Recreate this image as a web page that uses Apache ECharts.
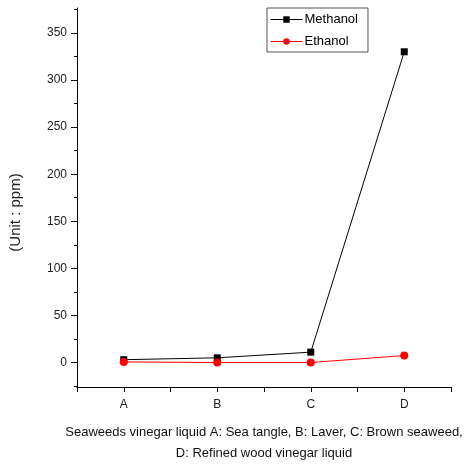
<!DOCTYPE html>
<html>
<head>
<meta charset="utf-8">
<script src="https://cdn.jsdelivr.net/npm/echarts@6/dist/echarts.min.js"></script>
<style>
  html, body { margin: 0; padding: 0; background: #fff; }
  #main { width: 474px; height: 464px; }
</style>
</head>
<body>
<div id="main"></div>
<script>
// categories A..D placed at 0..3 on a value axis
var categories = ['A', 'B', 'C', 'D'];
var methanol = [3, 5, 11, 330];
var ethanol = [0.6, 0, 0, 7.4];
var yLabels = [0, 50, 100, 150, 200, 250, 300, 350];
var yMinorTicks = [-25, 0, 25, 50, 75, 100, 125, 150, 175, 200, 225, 250, 275, 300, 325, 350, 375];
var xTicks = [-0.5, 0, 0.5, 1, 1.5, 2, 2.5, 3, 3.5];

var chart = echarts.init(document.getElementById('main'));

var font = 'Liberation Sans, Arial, sans-serif';

var option = {
  backgroundColor: '#fff',
  animation: false,
  grid: { left: 77, right: 23, top: 8, bottom: 77, outerBoundsMode: 'none', containLabel: false },
  legend: {
    orient: 'vertical',
    left: 267,
    top: 8,
    borderColor: '#555',
    borderWidth: 1,
    padding: [5, 10, 4, 3],
    itemGap: 9,
    itemWidth: 32,
    itemHeight: 8,
    lineStyle: { width: 1 },
    textStyle: { fontFamily: font, fontSize: 13, color: '#000', padding: [0, 0, 0, -3] },
    data: ['Methanol', 'Ethanol']
  },
  xAxis: {
    type: 'value',
    min: -0.5,
    max: 3.5,
    interval: 0.5,
    name: 'Seaweeds vinegar liquid A: Sea tangle, B: Laver, C: Brown seaweed,\nD: Refined wood vinegar liquid',
    nameLocation: 'middle',
    nameGap: 35,
    nameTextStyle: { fontFamily: font, fontSize: 13, color: '#111', lineHeight: 21, verticalAlign: 'top' },
    axisLine: { onZero: false, lineStyle: { color: '#000', width: 1 } },
    axisTick: { show: true, inside: false, length: 5, customValues: xTicks, lineStyle: { color: '#000' } },
    axisLabel: {
      customValues: [0, 1, 2, 3],
      margin: 12,
      fontFamily: font, fontSize: 12, color: '#222',
      formatter: function (v) { return categories[Math.round(v)] || ''; }
    },
    splitLine: { show: false }
  },
  yAxis: [{
    type: 'value',
    min: -26,
    max: 376.5,
    name: '(Unit : ppm)',
    nameLocation: 'middle',
    nameGap: 54,
    nameTextStyle: { fontFamily: font, fontSize: 15, color: '#222', padding: [0, 30, 0, 0] },
    axisLine: { show: true, onZero: false, lineStyle: { color: '#000', width: 1 } },
    axisTick: { show: true, length: 6, customValues: yLabels, lineStyle: { color: '#000' } },
    axisLabel: { customValues: yLabels, margin: 10, fontFamily: font, fontSize: 12, color: '#222' },
    splitLine: { show: false }
  }, {
    type: 'value',
    position: 'left',
    min: -26,
    max: 376.5,
    axisLine: { show: false, onZero: false },
    axisTick: { show: true, length: 3, customValues: yMinorTicks, lineStyle: { color: '#000' } },
    axisLabel: { show: false },
    splitLine: { show: false }
  }],
  series: [{
    name: 'Methanol',
    type: 'line',
    data: methanol.map(function (v, i) { return [i, v]; }),
    symbol: 'rect',
    symbolSize: 7,
    itemStyle: { color: '#000' },
    lineStyle: { color: '#000', width: 1 },
    z: 3
  }, {
    name: 'Ethanol',
    type: 'line',
    data: ethanol.map(function (v, i) { return [i, v]; }),
    symbol: 'circle',
    symbolSize: 8,
    itemStyle: { color: '#ff0000' },
    lineStyle: { color: '#ff0000', width: 1 },
    z: 4
  }]
};

chart.setOption(option);
</script>
</body>
</html>
